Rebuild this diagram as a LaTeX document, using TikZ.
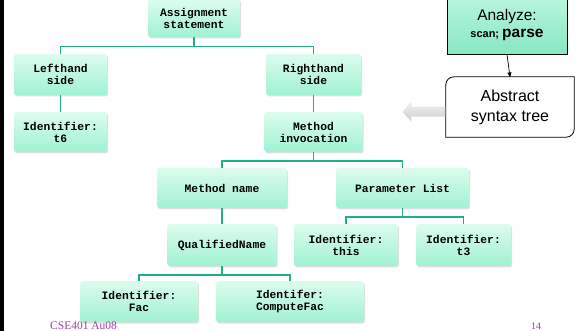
\documentclass[tikz,border=0pt]{standalone}
\usepackage{fontspec}
\setmainfont{Liberation Serif}
\setsansfont{Liberation Sans}
\setmonofont{Liberation Mono}
\usetikzlibrary{arrows,shadows}
\definecolor{mintlight}{HTML}{DCFCEE}
\definecolor{mintdark}{HTML}{A0F2D2}
\definecolor{greenlight}{HTML}{BAF5DE}
\definecolor{greendark}{HTML}{86E8C2}
\definecolor{linkcol}{HTML}{1EB08A}
\definecolor{footcol}{HTML}{A03CA0}
\newcommand{\tnfont}{\ttfamily\bfseries\fontsize{11.3}{12}\selectfont}

\begin{document}
\begin{tikzpicture}[>=stealth',x=1pt,y=-1pt,
  treenode/.style={rounded corners=2.5pt,top color=mintlight,bottom color=mintdark,
    drop shadow={opacity=0.25,shadow xshift=1pt,shadow yshift=-1.5pt},
    align=center,inner sep=0pt,font=\tnfont},
  link/.style={draw=linkcol,line width=1.6pt},
  footer/.style={text=footcol,inner sep=0pt,anchor=base west}]
  \useasboundingbox (0,0) rectangle (584,331);
  \fill (0,0) rectangle (4,331);
  \node[treenode,minimum width=92pt,minimum height=38pt]  (assign) at (194,18)    {Assignment\\statement};
  \node[treenode,minimum width=93pt,minimum height=41pt]  (lhs)    at (60.5,74.5) {Lefthand\\side};
  \node[treenode,minimum width=93pt,minimum height=40pt]  (idt6)   at (60.5,132)  {Identifier:\\t6};
  \node[treenode,minimum width=95pt,minimum height=41pt]  (rhs)    at (313.5,74.5) {Righthand\\side};
  \node[treenode,minimum width=98pt,minimum height=40pt]  (minv)   at (313.5,132) {Method\\invocation};
  \node[treenode,minimum width=130pt,minimum height=40pt] (mname)  at (222,188)   {Method name};
  \node[treenode,minimum width=133pt,minimum height=40pt] (plist)  at (402.5,188) {Parameter List};
  \node[treenode,minimum width=109pt,minimum height=42pt] (qname)  at (222,245)   {QualifiedName};
  \node[treenode,minimum width=104pt,minimum height=42pt] (idthis) at (346,245)   {Identifier:\\this};
  \node[treenode,minimum width=95pt,minimum height=42pt]  (idt3)   at (463.5,245) {Identifier:\\t3};
  \node[treenode,minimum width=118pt,minimum height=41pt] (idfac)  at (139,301.5) {Identifier:\\Fac};
  \node[treenode,minimum width=148pt,minimum height=41pt] (idcfac) at (290,301.5) {Identifer:\\ComputeFac};
  % tree links
  \draw[link] (assign.south) -- ++(0,9.5) -| (lhs.north);
  \draw[link] (assign.south) -- ++(0,9.5) -| (rhs.north);
  \draw[link] (lhs.south) -- (idt6.north);
  \draw[link] (rhs.south) -- (minv.north);
  \draw[link] (minv.south) -- ++(0,9) -| (mname.north);
  \draw[link] (minv.south) -- ++(0,9) -| (plist.north);
  \draw[link] (mname.south) -- (qname.north);
  \draw[link] (plist.south) -- ++(0,9) -| (idthis.north);
  \draw[link] (plist.south) -- ++(0,9) -| (idt3.north);
  \draw[link] (qname.south) -- ++(0,9) -| (idfac.north);
  \draw[link] (qname.south) -- ++(0,9) -| (idcfac.north);
  % phase boxes
  \node[draw,line width=0.9pt,top color=greenlight,bottom color=greendark,
    minimum width=120pt,minimum height=58pt,align=center,inner sep=0pt,
    font=\sffamily\fontsize{15.5}{16.5}\selectfont] (analyze) at (507,25)
    {Analyze:\\{\bfseries\fontsize{11}{11}\selectfont scan; }{\bfseries parse}};
  \node[minimum width=128pt,minimum height=60pt,align=center,inner sep=0pt,
    font=\sffamily\fontsize{16}{20}\selectfont] (ast) at (510,107)
    {Abstract\\syntax tree};
  \draw[line width=0.8pt] (ast.south west) -- ([yshift=-8pt]ast.north west)
    arc[start angle=180,end angle=90,radius=8pt] -- (ast.north east)
    -- ([yshift=8pt]ast.south east)
    arc[start angle=0,end angle=-90,radius=8pt] -- cycle;
  \draw[->,line width=0.7pt] (analyze.south) -- (ast.north);
  \shade[top color=gray!10,bottom color=gray!40,draw=gray!30]
    (445,107) -- (411,107) -- (411,103) -- (403,112) -- (411,121)
    -- (411,116.5) -- (445,116.5) -- cycle;
  % footer
  \node[footer,font=\rmfamily\fontsize{11.5}{12}\selectfont] (course) at (50,330) {CSE401 Au08};
  \node[footer,font=\rmfamily\fontsize{10}{12}\selectfont] (page) at (531,330) {14};
\end{tikzpicture}
\end{document}
